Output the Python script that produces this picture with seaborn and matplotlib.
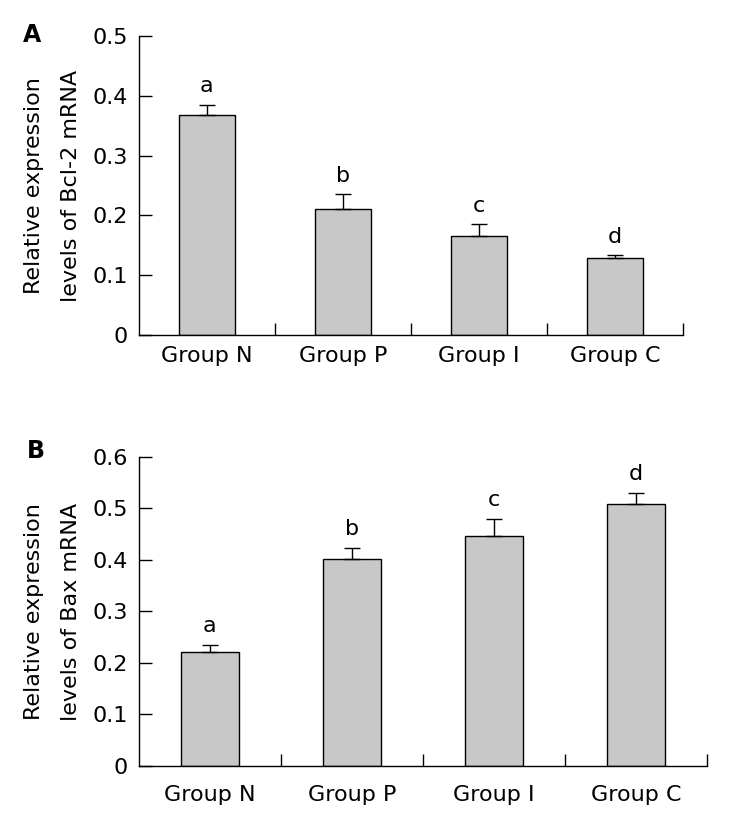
"""
Bcl-2 and Bax mRNA expression by group, two-panel bar chart.
"""

import matplotlib

matplotlib.use("Agg")
import matplotlib.pyplot as plt
import pandas as pd
import seaborn as sns
from matplotlib.ticker import FuncFormatter

groups = ["Group N", "Group P", "Group I", "Group C"]
letters = ["a", "b", "c", "d"]

bcl2_mean = [0.368, 0.211, 0.166, 0.128]
bcl2_err = [0.017, 0.024, 0.019, 0.005]

bax_mean = [0.222, 0.401, 0.447, 0.509]
bax_err = [0.013, 0.023, 0.033, 0.022]

sns.set_style("ticks")
plt.rcParams["font.family"] = ["DejaVu Sans"]
plt.rcParams["font.size"] = 16
for key in ["text.color", "axes.labelcolor", "xtick.color", "ytick.color",
            "axes.edgecolor"]:
    plt.rcParams[key] = "black"

BAR_COLOR = "#c8c8c8"


def fmt_tick(v, _pos):
    return "0" if abs(v) < 1e-9 else f"{v:.1f}"


def draw_panel(ax, means, errs, ylim, ylabel, xpad):
    df = pd.DataFrame({"group": groups, "value": means})
    sns.barplot(
        data=df, x="group", y="value", color=BAR_COLOR, edgecolor="black",
        linewidth=1.0, width=0.41, errorbar=None, saturation=1, ax=ax,
    )
    pos = list(range(len(groups)))
    ax.errorbar(
        pos, means, yerr=[[0] * len(errs), errs], fmt="none",
        ecolor="black", elinewidth=1.0, capsize=6, capthick=1.0, zorder=1,
    )
    for x, m, e, t in zip(pos, means, errs, letters):
        ax.annotate(t, (x, m + e), xytext=(0, 9), textcoords="offset points",
                    ha="center", va="baseline", fontsize=16)

    ax.set_xlim(-0.5, len(groups) - 0.5)
    ax.set_ylim(*ylim)
    ax.yaxis.set_major_formatter(FuncFormatter(fmt_tick))
    ax.set_xticks([p + 0.5 for p in pos], minor=True)
    ax.tick_params(axis="x", which="major", length=0, pad=xpad, labelsize=16)
    ax.tick_params(axis="x", which="minor", direction="in", length=9, width=1)
    ax.tick_params(axis="y", direction="in", length=9, width=1, pad=8,
                   labelsize=16)
    ax.set_xlabel("")
    ax.set_ylabel(ylabel, fontsize=16, linespacing=2.1, labelpad=8)
    for side in ["top", "right"]:
        ax.spines[side].set_visible(False)
    for side in ["left", "bottom"]:
        ax.spines[side].set_linewidth(1.0)


fig = plt.figure(figsize=(7.31, 8.24), dpi=100)
ax_a = fig.add_axes([0.190, 0.5934, 0.744, 0.3629])
ax_b = fig.add_axes([0.190, 0.0704, 0.777, 0.375])

draw_panel(ax_a, bcl2_mean, bcl2_err, (0, 0.5),
           "Relative expression\nlevels of Bcl-2 mRNA", xpad=8)
ax_a.set_yticks([0, 0.1, 0.2, 0.3, 0.4, 0.5])

draw_panel(ax_b, bax_mean, bax_err, (0, 0.6),
           "Relative expression\nlevels of Bax mRNA", xpad=14)
ax_b.set_yticks([0, 0.1, 0.2, 0.3, 0.4, 0.5, 0.6])

fig.text(23 / 731, 1 - 35 / 824, "A", fontsize=17, fontweight="bold", va="center")
fig.text(27 / 731, 1 - 451 / 824, "B", fontsize=17, fontweight="bold", va="center")

fig.savefig("out.png", dpi=100, facecolor="white")
